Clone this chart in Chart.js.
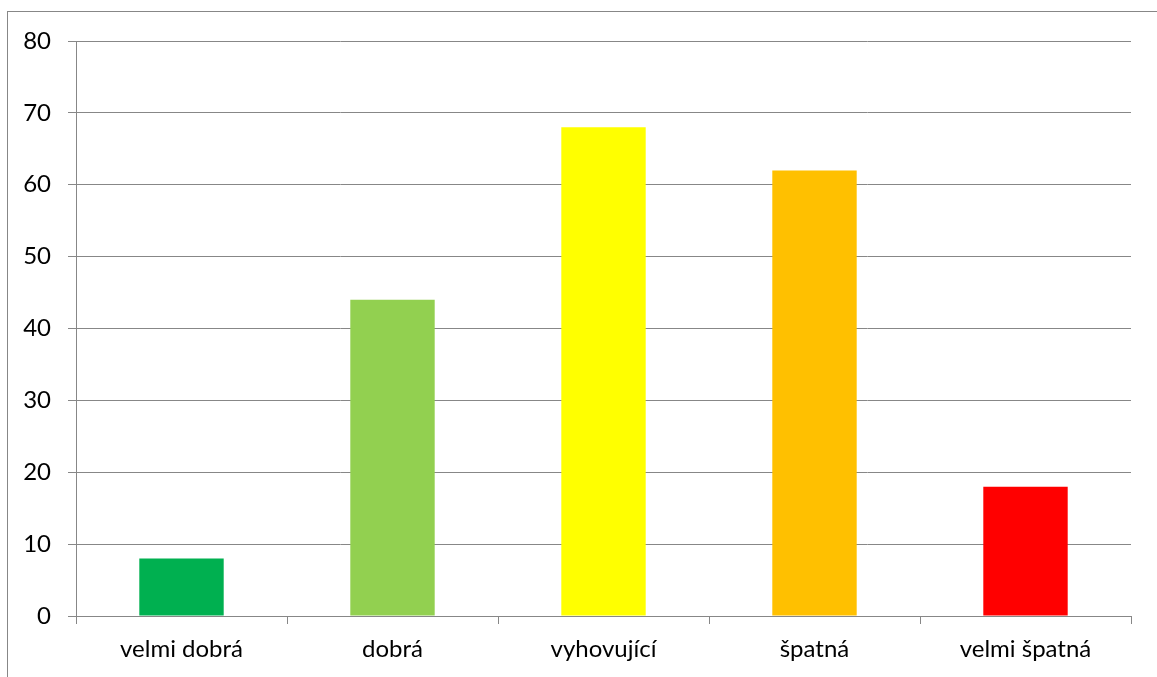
<!DOCTYPE html>
<html>
<head>
<meta charset="utf-8">
<script src="https://cdn.jsdelivr.net/npm/chart.js@4/dist/chart.umd.min.js"></script>
<style>
  html, body { margin: 0; padding: 0; background: #fff; }
  #wrap { position: relative; width: 1157px; height: 677px; }
</style>
</head>
<body>
<div id="wrap"><canvas id="c" width="1157" height="677"></canvas></div>
<script>
const categories = ['velmi dobrá', 'dobrá', 'vyhovující', 'špatná', 'velmi špatná'];
const counts = [8, 44, 68, 62, 18];
const barColors = ['#00B050', '#92D050', '#FFFF00', '#FFC000', '#FF0000'];
const yTicks = [0, 10, 20, 30, 40, 50, 60, 70, 80];

const gridGray = '#878787';
const labelFont = { family: 'Lato', size: 24 };

// outer frame of the chart object (left and top edges inside the canvas)
const framePlugin = {
  id: 'frame',
  beforeDraw(chart) {
    const ctx = chart.ctx;
    ctx.save();
    ctx.fillStyle = '#fff';
    ctx.fillRect(0, 0, chart.width, chart.height);
    ctx.strokeStyle = gridGray;
    ctx.lineWidth = 1;
    ctx.strokeRect(7.5, 11.5, chart.width + 20, chart.height + 20);
    ctx.restore();
  }
};

new Chart(document.getElementById('c'), {
  type: 'bar',
  data: {
    labels: categories,
    datasets: [{
      data: counts,
      backgroundColor: barColors,
      borderWidth: 0,
      categoryPercentage: 1.0,
      barPercentage: 0.4
    }]
  },
  options: {
    responsive: false,
    animation: false,
    devicePixelRatio: 1,
    layout: { padding: { left: 0, right: 26, top: 41, bottom: 0 } },
    plugins: { legend: { display: false }, tooltip: { enabled: false } },
    scales: {
      x: {
        afterFit(scale) { scale.height = 61; },
        grid: {
          drawOnChartArea: false,
          drawTicks: true,
          tickLength: 8,
          color: gridGray,
          offset: true
        },
        border: { color: gridGray, width: 1 },
        ticks: {
          color: '#000',
          padding: 11,
          font: labelFont,
          maxRotation: 0
        }
      },
      y: {
        min: 0,
        max: 80,
        afterFit(scale) { scale.width = 76; },
        afterBuildTicks(scale) { scale.ticks = yTicks.map(v => ({ value: v })); },
        grid: {
          color: gridGray,
          tickLength: 8,
          drawTicks: true
        },
        border: { color: gridGray, width: 1 },
        ticks: {
          color: '#000',
          padding: 17,
          font: labelFont
        }
      }
    }
  },
  plugins: [framePlugin]
});
</script>
</body>
</html>
